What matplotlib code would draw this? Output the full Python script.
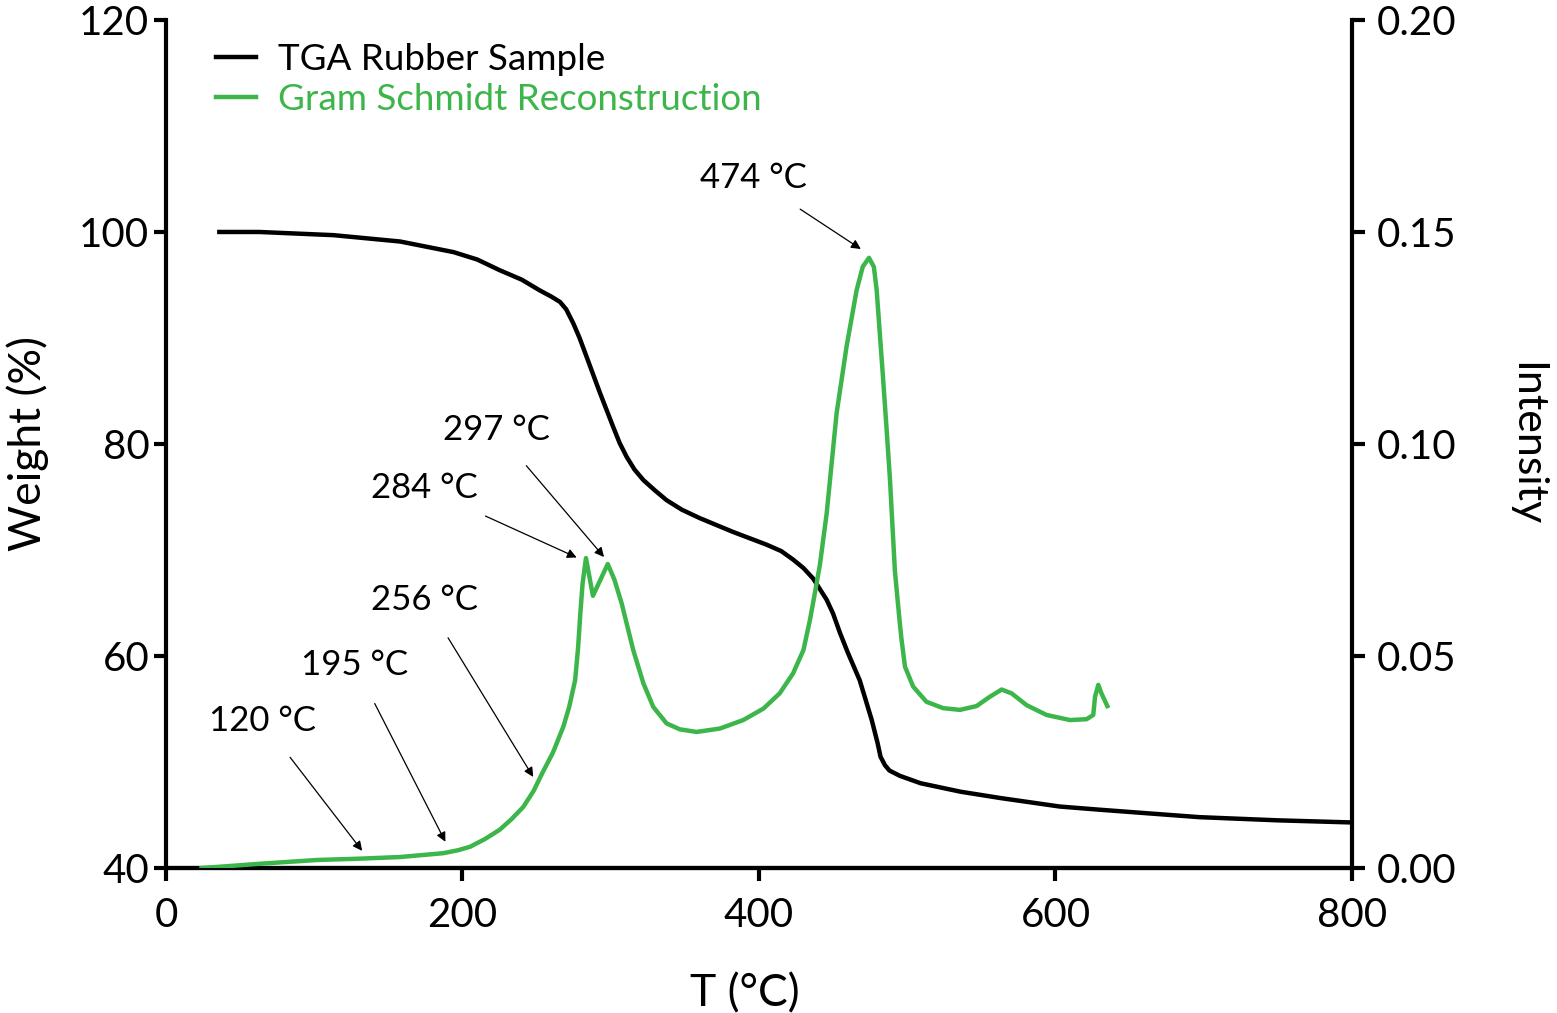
import matplotlib
matplotlib.use('Agg')
import matplotlib.pyplot as plt

plt.rcParams['font.family'] = ['Lato', 'DejaVu Sans']

green = '#3cb64a'

# TGA weight curve
tga_t = [36, 63, 113, 158, 194, 210, 225, 240, 252, 260, 265.8, 270, 274.7, 279, 283.8, 292.8, 301.7,
         306, 310.7, 316, 322, 330, 337.7, 348, 360.2, 382.6, 405.2, 415, 423, 430, 436.6, 445.7, 450,
         454.6, 460, 468, 476, 480, 482, 485, 488, 495, 509, 536, 563, 603, 630, 697, 750, 800]
tga_w = [100, 100, 99.7, 99.1, 98.1, 97.4, 96.4, 95.5, 94.5, 93.9, 93.4, 92.7, 91.4, 90.0, 88.2, 84.8, 81.6,
         80.1, 78.8, 77.6, 76.6, 75.6, 74.7, 73.8, 73.0, 71.7, 70.5, 69.9, 69.1, 68.3, 67.3, 65.3, 64.0,
         62.2, 60.3, 57.7, 54.0, 51.8, 50.5, 49.7, 49.2, 48.7, 48.0, 47.2, 46.6, 45.8, 45.5, 44.8, 44.5, 44.3]

# Gram Schmidt intensity
gs_t = [24, 40, 63, 102, 130, 158, 187, 197, 205, 215, 225, 233, 241, 248, 254, 261, 268, 272, 276,
        278, 279.5, 281, 283.3, 288, 298, 302.5, 307.4, 315.2, 322, 328.7, 337.7, 346.7, 358, 373.7,
        389.4, 403, 414, 423, 430, 434.4, 437.8, 441.1, 445.7, 452.4, 459.1, 465.9, 470, 474.2, 477.5,
        479.4, 483.8, 486, 488.4, 491.7, 495, 496.2, 498.5, 504, 513, 524.3, 535.6, 546.8, 555.8, 563.7,
        570.4, 580.6, 594, 609.8, 621, 625.5, 626.7, 628.9, 631, 635]
gs_i = [0, 0.0004, 0.001, 0.0019, 0.0022, 0.0026, 0.0035, 0.0042, 0.005, 0.0068, 0.009, 0.0115, 0.0144, 0.0182, 0.0225, 0.0272, 0.0333, 0.038, 0.0443,
        0.052, 0.060, 0.067, 0.0731, 0.0642, 0.0717, 0.068, 0.0624, 0.0514, 0.0436, 0.038, 0.0341, 0.0327, 0.0321, 0.0329,
        0.0349, 0.0376, 0.0412, 0.0459, 0.0514, 0.0585, 0.0650, 0.0715, 0.0837, 0.1073, 0.123, 0.1363, 0.1418, 0.1439, 0.1418,
        0.1363, 0.1151, 0.104, 0.0915, 0.070, 0.0578, 0.0538, 0.0475, 0.0428, 0.0392, 0.0377, 0.0373, 0.0382, 0.0404, 0.0421,
        0.0412, 0.0384, 0.0361, 0.0349, 0.0351, 0.0361, 0.0404, 0.0432, 0.0412, 0.0382]

# annotations: label, arrow head (T, I), text centre (T, I)
ann_labels = ['120 °C', '195 °C', '256 °C', '284 °C', '297 °C', '474 °C']
ann_head = [(132.9, 0.0038), (188.9, 0.0059), (248.2, 0.0212), (277.9, 0.0731), (296.1, 0.0731), (469.5, 0.1458)]
ann_text = [(64.8, 0.0347), (127.5, 0.0479), (174.7, 0.0632), (174, 0.0896), (222.6, 0.1033), (396, 0.1627)]

fig = plt.figure(figsize=(15.57, 10.13), dpi=100)
ax = fig.add_axes([0.1066, 0.1431, 0.7617, 0.8372])
ax2 = ax.twinx()

l1, = ax.plot(tga_t, tga_w, color='black', lw=3.2, label='TGA Rubber Sample', zorder=3,
              solid_joinstyle='round')
l2, = ax2.plot(gs_t, gs_i, color=green, lw=3.2, label='Gram Schmidt Reconstruction', zorder=3,
               solid_joinstyle='round')

ax.set_xlim(0, 800)
ax.set_ylim(40, 120)
ax2.set_ylim(0, 0.20)
ax.set_xticks([0, 200, 400, 600, 800])
ax.set_yticks([40, 60, 80, 100, 120])
ax2.set_yticks([0, 0.05, 0.10, 0.15, 0.20])
ax2.set_yticklabels(['0.00', '0.05', '0.10', '0.15', '0.20'])

for a in (ax, ax2):
    a.spines['top'].set_visible(False)
    for s in a.spines.values():
        s.set_linewidth(3)
    a.tick_params(width=3, length=9, labelsize=29, direction='out')
ax2.spines['left'].set_visible(False)
ax.spines['right'].set_visible(False)
ax.tick_params(axis='x', pad=12)
ax.tick_params(axis='y', pad=3)
ax2.tick_params(axis='y', pad=9)

ax.set_xlabel('T (°C)', fontsize=32)
ax.xaxis.set_label_coords(0.488, -0.124)
ax.set_ylabel('Weight (%)', fontsize=32, labelpad=22)
ax2.set_ylabel('Intensity', fontsize=31, rotation=270, labelpad=64)

for lab, head, txt in zip(ann_labels, ann_head, ann_text):
    ax2.annotate(lab, xy=head, xytext=txt, ha='center', va='center', fontsize=25,
                 arrowprops=dict(arrowstyle='-|>', color='black', lw=0.9, mutation_scale=14,
                                 shrinkA=16, shrinkB=1), zorder=5)

leg = ax2.legend(handles=[l1, l2], loc='upper left', bbox_to_anchor=(0.014, 1.012), frameon=False,
                 fontsize=26.5, handlelength=1.1, handletextpad=0.6, labelspacing=0.2)
for text, line in zip(leg.get_texts(), [l1, l2]):
    text.set_color(line.get_color())

fig.savefig('out.png', dpi=100)
